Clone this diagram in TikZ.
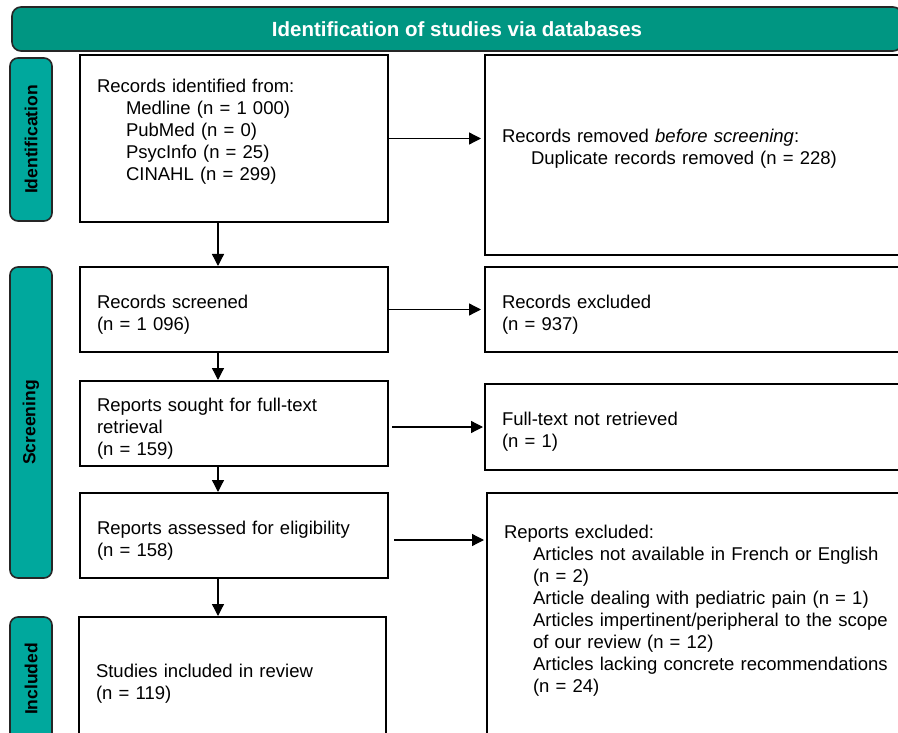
\documentclass[tikz,border=0pt]{standalone}
\usepackage{fontspec}
\setmainfont{Liberation Sans}
\usepackage{xcolor}
\usetikzlibrary{arrows.meta,calc}
\definecolor{prismateal}{RGB}{0,150,130}
\definecolor{tabteal}{RGB}{0,168,157}
\newcommand{\ind}{\hspace*{29pt}}
\newcommand{\lift}[1]{\rule[-#1]{0pt}{#1}}

\begin{document}
\begin{tikzpicture}[x=1pt,y=-1pt,
    box/.style={draw=black, line width=2pt, fill=white, align=left, inner xsep=17pt, inner ysep=0pt,
        font=\fontsize{18.5}{22}\selectfont, execute at begin node={\rule{0pt}{23pt}}},
    sidetab/.style={draw=black!85, line width=1.6pt, fill=tabteal, rounded corners=8pt, rotate=90,
        inner sep=0pt, minimum height=42pt, font=\fontsize{17.5}{20}\selectfont\bfseries},
    header/.style={draw=black!85, line width=1.6pt, fill=prismateal, rounded corners=9pt, text=white,
        minimum width=890pt, minimum height=44pt, font=\fontsize{20.5}{24}\selectfont\bfseries},
    arr/.style={line width=1.3pt, -{Triangle[length=12pt,width=12pt]}}]
    \useasboundingbox (0,0) rectangle (898,733);
    \fill[white] (0,0) rectangle (898,733);
    \clip (0,0) rectangle (898,733);

    % Header
    \node[header] (head) at (457,29) {Identification of studies via databases};

    % Phase tabs
    \node[sidetab, minimum width=163pt] (tabid) at (31,139.5) {Identification};
    \node[sidetab, minimum width=311pt] (tabscr) at (31,422.5) {Screening};
    \node[sidetab, minimum width=124pt] (tabinc) at (31,679) {Included};

    % Main column
    \node[box, text width=274pt, minimum height=167pt] (rec) at (234,138.5)
        {Records identified from:\\ \ind Medline (n = 1 000)\\ \ind PubMed (n = 0)\\
         \ind PsycInfo (n = 25)\\ \ind CINAHL (n = 299)\lift{26pt}};
    \node[box, text width=274pt, minimum height=85pt] (scr) at (234,309.5)
        {Records screened\\ (n = 1 096)};
    \node[box, text width=274pt, minimum height=85pt] (sought) at (234,423.5)
        {Reports sought for full-text\\ retrieval\\ (n = 159)};
    \node[box, text width=274pt, minimum height=85pt] (assess) at (234,535.5)
        {Reports assessed for eligibility\\ (n = 158)};
    \node[box, text width=273pt, minimum height=124pt] (incl) at (232.5,679)
        {Studies included in review\\ (n = 119)};

    % Side column
    \node[box, text width=401pt, minimum height=200pt] (dup) at (702.5,155)
        {Records removed \textit{before screening}:\\ \ind Duplicate records removed (n = 228)\lift{25pt}};
    \node[box, text width=401pt, minimum height=85pt] (exc) at (702.5,309.5)
        {Records excluded\\ (n = 937)};
    \node[box, text width=401pt, minimum height=86pt] (notret) at (702.5,427)
        {Full-text not retrieved\\ (n = 1)};
    \node[box, text width=399pt, minimum height=252pt] (repexc) at (703.5,619)
        {Reports excluded:\\ \ind Articles not available in French or English\\ \ind (n = 2)\\
         \ind Article dealing with pediatric pain (n = 1)\\
         \ind Articles impertinent/peripheral to the scope\\ \ind of our review (n = 12)\\
         \ind Articles lacking concrete recommendations\\ \ind (n = 24)\lift{30pt}};

    % Arrows down
    \coordinate (spine) at (218,0);
    \draw[arr] (rec.south -| spine) -- (scr.north -| spine);
    \draw[arr] (scr.south -| spine) -- (sought.north -| spine);
    \draw[arr] (sought.south -| spine) -- (assess.north -| spine);
    \draw[arr] (assess.south -| spine) -- (incl.north -| spine);

    % Arrows right
    \draw[arr, shorten >=3pt] (rec.east) -- (dup.west |- rec.east);
    \draw[arr, shorten >=3pt] (scr.east) -- (exc.west |- scr.east);
    \draw[arr, shorten >=1pt] ([xshift=3pt]sought.east |- notret.west) -- (notret.west);
    \coordinate (a4) at ($(assess.east)+(5,4.5)$);
    \draw[arr, shorten >=2pt] (a4) -- (repexc.west |- a4);
\end{tikzpicture}
\end{document}
